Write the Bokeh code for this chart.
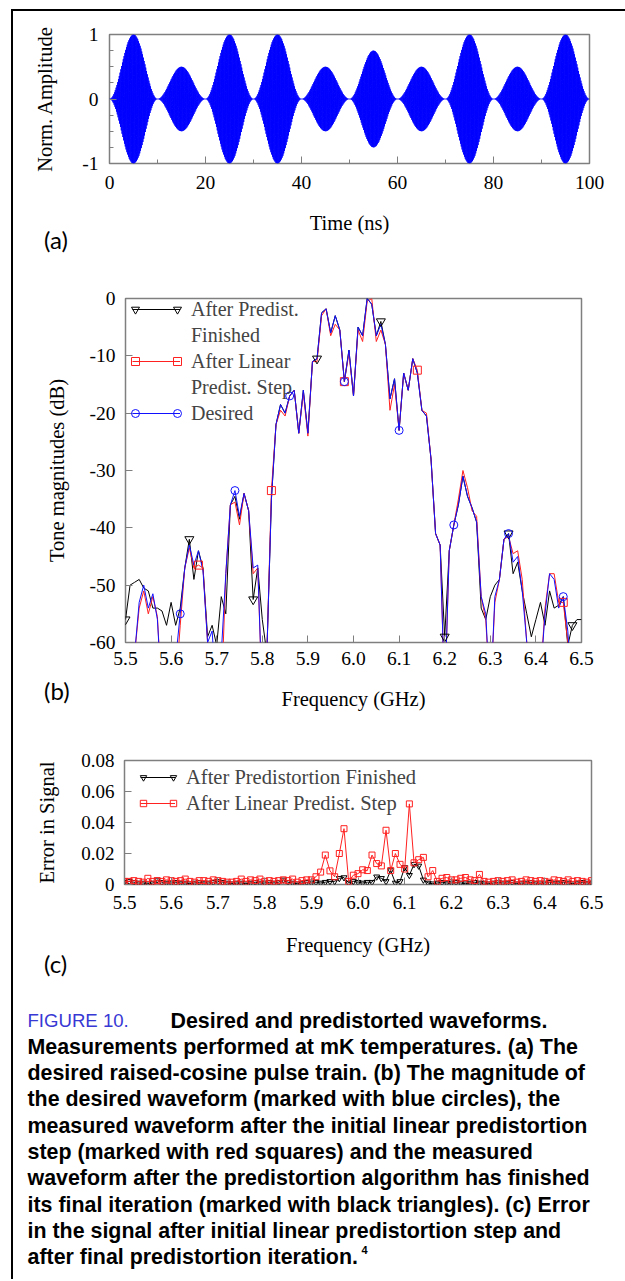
import numpy as np
from bokeh.plotting import figure
from bokeh.models import Legend, LegendItem, FixedTicker, PrintfTickFormatter, Range1d, Div
from bokeh.core.properties import value
from bokeh.embed import file_html
from bokeh.resources import INLINE

# ---------------- data ----------------
# (a) raised-cosine pulse train
pulse_amplitudes = [1.0, 0.5, 1.0, 1.0, 0.5, 0.75, 0.5, 1.0, 0.5, 1.0]
pulse_period_ns = 10.0
carrier_ghz = 6.0
time_ticks = [0, 20, 40, 60, 80, 100]
amp_ticks = [-1, 0, 1]

# (b) tone magnitudes (dB), tones every 10 MHz from 5.50 to 6.50 GHz
freq_start = 5.50
freq_step = 0.01
desired_db = [
    -70, -70, -62, -53, -50, -54, -51.5, -56, -70, -70,
    -70, -63, -55, -47, -43, -46.5, -44, -47.5, -60, -58,
    -70, -62, -48, -36, -33.5, -38, -34, -37, -47, -46.5,
    -70, -62, -35, -22, -18.5, -20, -17, -16, -23.5, -16,
    -23.5, -11, -10.5, -2.5, -1.8, -6, -3, -5.5, -14.5, -9,
    -17, -5, -6.5, 0, -1, -6.5, -4.5, -8, -17.5, -14,
    -23, -13, -16, -10.5, -13, -19.5, -20.5, -28, -41, -43,
    -70, -44, -39.5, -36, -31, -34.5, -36.5, -39, -52, -55,
    -70, -52, -49, -42, -41, -46, -45, -51, -60, -70,
    -70, -66, -55, -48, -49, -54, -52, -58, -70, -70,
    -70]
linear_step_db = [
    -70, -70, -62, -54, -51, -55, -52, -55.5, -70, -70,
    -70, -68, -57, -47, -43.5, -47, -46.5, -47, -60, -62,
    -70, -70, -48, -36, -35.5, -39.5, -34, -37, -48, -47,
    -70, -62, -33.5, -22, -19.5, -20.5, -17, -16, -23.5, -16.5,
    -24, -11, -11, -3, -1.8, -6.5, -4.5, -5.5, -14.5, -9.5,
    -17, -5.5, -7.5, -0.5, 0, -7.5, -5.5, -8, -19.5, -15,
    -23, -13, -16, -10.5, -12.5, -19.5, -20, -28, -41, -43,
    -70, -44, -39.5, -35, -30, -33, -37, -38, -52, -56,
    -70, -53, -49, -42, -41.5, -44.5, -44, -49, -60, -70,
    -70, -66, -54, -48, -48, -53, -53, -60, -70, -70,
    -70]
final_db = [
    -56, -50, -49.5, -49, -50.5, -51, -54, -54, -54.5, -57,
    -53, -57, -54, -47, -42, -49, -44, -47, -59, -57,
    -60.5, -52, -55, -36, -34.5, -38.5, -34, -37, -52.5, -47,
    -56, -62, -35, -22, -18.5, -20, -17, -16, -23.5, -16,
    -23.5, -11, -10.5, -2.5, -1.8, -6, -3, -5.5, -14.5, -9,
    -17, -5, -6.5, 0, -1, -6.5, -4, -8, -17.5, -14,
    -23, -13, -16, -10.5, -13, -19.5, -20.5, -28, -41, -43,
    -59, -44, -39.5, -36, -31, -34.5, -36.5, -39, -54, -56,
    -52, -50, -49, -42, -41, -48, -46, -51, -55, -59,
    -56, -53, -57, -51, -54, -53.5, -52, -60.5, -57, -56,
    -56]
freq_ticks = [5.5, 5.6, 5.7, 5.8, 5.9, 6.0, 6.1, 6.2, 6.3, 6.4, 6.5]
db_ticks = [-60, -50, -40, -30, -20, -10, 0]

# (c) error in signal
err_linear = [
    0.002, 0.002, 0.0025, 0.002, 0.0015, 0.004, 0.002, 0.0025, 0.002, 0.003,
    0.0025, 0.002, 0.0025, 0.0035, 0.002, 0.0015, 0.0025, 0.0025, 0.002, 0.003,
    0.0025, 0.002, 0.0015, 0.0015, 0.002, 0.0035, 0.002, 0.003, 0.0025, 0.0035,
    0.002, 0.0025, 0.002, 0.0025, 0.003, 0.0025, 0.0035, 0.0015, 0.0025, 0.003,
    0.003, 0.005, 0.008, 0.019, 0.0088, 0.005, 0.02, 0.036, 0.002, 0.006,
    0.007, 0.0095, 0.009, 0.019, 0.0135, 0.012, 0.035, 0.009, 0.02, 0.013,
    0.01, 0.052, 0.014, 0.016, 0.0175, 0.005, 0.009, 0.002, 0.004, 0.0045,
    0.003, 0.003, 0.004, 0.0045, 0.003, 0.0025, 0.0065, 0.002, 0.0015, 0.002,
    0.0025, 0.002, 0.0025, 0.003, 0.0015, 0.002, 0.003, 0.0025, 0.002, 0.0025,
    0.002, 0.0015, 0.003, 0.0025, 0.002, 0.003, 0.002, 0.0025, 0.002, 0.0015,
    0.0025]
err_final = [
    0.0015, 0.002, 0.0015, 0.001, 0.001, 0.0005, 0.001, 0.003, 0.0015, 0.001,
    0.001, 0.0015, 0.001, 0.001, 0.0005, 0.001, 0.0015, 0.001, 0.001, 0.0015,
    0.002, 0.0015, 0.001, 0.0005, 0.001, 0.001, 0.0005, 0.001, 0.0015, 0.001,
    0.001, 0.0015, 0.001, 0.0015, 0.003, 0.0015, 0.001, 0.0005, 0.001, 0.0015,
    0.001, 0.0015, 0.001, 0.0015, 0.002, 0.002, 0.004, 0.0045, 0.001, 0.002,
    0.0015, 0.001, 0.0015, 0.0015, 0.005, 0.004, 0.002, 0.009, 0.001, 0.002,
    0.011, 0.006, 0.013, 0.012, 0.003, 0.001, 0.0005, 0.001, 0.0015, 0.001,
    0.001, 0.0015, 0.001, 0.0005, 0.001, 0.0015, 0.001, 0.001, 0.0005, 0.001,
    0.0015, 0.001, 0.001, 0.0015, 0.0005, 0.001, 0.001, 0.0015, 0.001, 0.0005,
    0.001, 0.0015, 0.001, 0.001, 0.0015, 0.001, 0.0005, 0.001, 0.0015, 0.001,
    0.001]
err_ticks = [0, 0.02, 0.04, 0.06, 0.08]

caption_head = "FIGURE 10."
caption_lines = [
    "Desired and predistorted waveforms.",
    "Measurements performed at mK temperatures. (a) The",
    "desired raised-cosine pulse train. (b) The magnitude of",
    "the desired waveform (marked with blue circles), the",
    "measured waveform after the initial linear predistortion",
    "step (marked with red squares) and the measured",
    "waveform after the predistortion algorithm has finished",
    "its final iteration (marked with black triangles). (c) Error",
    "in the signal after initial linear predistortion step and",
    "after final predistortion iteration.",
]
caption_ref = "4"

# ---------------- styling helpers ----------------
SERIF = "Liberation Serif"
SANS = "Liberation Sans"
GRAY = "#7f7f7f"
W = 617
EDGE_FIRST = {"margin-left": "8px", "margin-top": "6px"}
EDGE = {"margin-left": "8px"}


def style(p, tick_fs, xtick_standoff, xlabel_standoff, ytick_standoff, ylabel_standoff):
    p.outline_line_color = GRAY
    p.outline_line_width = 1.5
    p.grid.visible = False
    p.background_fill_color = "white"
    p.border_fill_color = "white"
    for ax in (p.xaxis[0], p.yaxis[0]):
        ax.axis_line_color = None
        ax.major_tick_line_color = GRAY
        ax.minor_tick_line_color = GRAY
        ax.major_tick_in = 7
        ax.major_tick_out = 0
        ax.minor_tick_in = 0
        ax.minor_tick_out = 0
        ax.major_label_text_font = SERIF
        ax.major_label_text_font_size = tick_fs
        ax.major_label_text_color = "black"
        ax.axis_label_text_font = SERIF
        ax.axis_label_text_font_size = "20.5px"
        ax.axis_label_text_font_style = "normal"
        ax.axis_label_text_color = "black"
    p.xaxis[0].major_label_standoff = xtick_standoff
    p.yaxis[0].major_label_standoff = ytick_standoff
    p.xaxis[0].axis_label_standoff = xlabel_standoff
    p.yaxis[0].axis_label_standoff = ylabel_standoff


def make_legend(items, loc, glyph_width, standoff, font_size, text_alpha=1.0):
    leg = Legend(items=items, location=loc)
    leg.glyph_width = glyph_width
    leg.glyph_height = 24
    leg.label_height = 24
    leg.label_standoff = standoff
    leg.label_text_font = SERIF
    leg.label_text_font_size = font_size
    leg.label_text_alpha = text_alpha
    leg.background_fill_alpha = 0
    leg.border_line_color = None
    leg.padding = 0
    leg.margin = 0
    leg.spacing = 2
    return leg


def panel_tag(text, left, top):
    return Div(text=f'<span style="font-family: Lato; font-size: 24px; color: #000;">{text}</span>',
               width=40, height=32,
               styles={"position": "absolute", "left": f"{left}px", "top": f"{top}px"})


# ---------------- (a) ----------------
t = np.linspace(0, 100, 20001)
k = np.minimum((t // pulse_period_ns).astype(int), len(pulse_amplitudes) - 1)
env = np.array(pulse_amplitudes)[k] * np.sin(np.pi * (t - k * pulse_period_ns) / pulse_period_ns) ** 2
sig = env * np.sin(2 * np.pi * carrier_ghz * t)

pa = figure(width=W, height=259, x_range=Range1d(0, 100), y_range=Range1d(-1, 1),
            output_backend="svg", toolbar_location=None, styles=EDGE_FIRST,
            min_border_left=101, min_border_right=36, min_border_top=28, min_border_bottom=102)
pa.line(t, sig, line_color="#0000ff", line_width=1)
style(pa, "19.5px", 12, 20, 11, 23)
pa.xaxis[0].ticker = FixedTicker(ticks=time_ticks, minor_ticks=list(range(0, 101, 10)))
pa.yaxis[0].ticker = FixedTicker(ticks=amp_ticks, minor_ticks=[-1 + 0.25 * i for i in range(9)])
pa.xaxis[0].minor_tick_in = 4
pa.yaxis[0].minor_tick_in = 4
pa.xaxis[0].formatter = PrintfTickFormatter(format="%d")
pa.yaxis[0].formatter = PrintfTickFormatter(format="%d")
pa.xaxis[0].axis_label = "Time (ns)"
pa.yaxis[0].axis_label = "Norm. Amplitude"

# ---------------- (b) ----------------
freq = [round(freq_start + freq_step * i, 2) for i in range(len(desired_db))]
pb = figure(width=W, height=460, x_range=Range1d(5.5, 6.5), y_range=Range1d(-60, 0),
            output_backend="svg", toolbar_location=None, styles=EDGE,
            min_border_left=117, min_border_right=44, min_border_top=33, min_border_bottom=83)
style(pb, "19.5px", 9, 20, 10, 19)
lk = pb.line(freq, final_db, line_color="black", line_width=1)
lr = pb.line(freq, linear_step_db, line_color="#ff2020", line_width=1)
lb = pb.line(freq, desired_db, line_color="#1010ff", line_width=1)
sk = pb.scatter(freq[::14], final_db[::14], marker="inverted_triangle", size=9,
                line_color="black", fill_color=None, line_width=1)
sr = pb.scatter(freq[::16], linear_step_db[::16], marker="square", size=8,
                line_color="#ff2020", fill_color=None, line_width=1)
sb = pb.scatter(freq[::12], desired_db[::12], marker="circle", size=8,
                line_color="#1010ff", fill_color=None, line_width=1)
pb.xaxis[0].ticker = FixedTicker(ticks=freq_ticks)
pb.yaxis[0].ticker = FixedTicker(ticks=db_ticks)
pb.xaxis[0].formatter = PrintfTickFormatter(format="%.1f")
pb.yaxis[0].formatter = PrintfTickFormatter(format="%d")
pb.xaxis[0].axis_label = "Frequency (GHz)"
pb.yaxis[0].axis_label = "Tone magnitudes (dB)"
pb.add_layout(make_legend([
    LegendItem(label="After Predist.", renderers=[lk]),
    LegendItem(label="Finished", renderers=[]),
    LegendItem(label="After Linear", renderers=[lr]),
    LegendItem(label="Predist. Step", renderers=[]),
    LegendItem(label="Desired", renderers=[lb]),
], (7, 217), 48, 11, "20px"))
# end markers of the legend samples (left and right ends of each sample line)
for vx in (0, 42):
    pb.add_layout(make_legend([
        LegendItem(label=" ", renderers=[sk]),
        LegendItem(label=" ", renderers=[]),
        LegendItem(label=" ", renderers=[sr]),
        LegendItem(label=" ", renderers=[]),
        LegendItem(label=" ", renderers=[sb]),
    ], (vx, 217), 20, 0, "4px", 0.0))

# ---------------- (c) ----------------
pc = figure(width=W, height=265, x_range=Range1d(5.5, 6.5), y_range=Range1d(0, 0.08),
            output_backend="svg", toolbar_location=None, styles=EDGE,
            min_border_left=116, min_border_right=34, min_border_top=35, min_border_bottom=106)
style(pc, "19px", 11, 22, 10, 20)
ck = pc.line(freq, err_final, line_color="black", line_width=1)
ckm = pc.scatter(freq, err_final, marker="inverted_triangle", size=6,
                 line_color="black", fill_color=None, line_width=1)
cr = pc.line(freq, err_linear, line_color="#ff2020", line_width=1)
crm = pc.scatter(freq, err_linear, marker="square", size=6,
                 line_color="#ff2020", fill_color=None, line_width=1)
pc.xaxis[0].ticker = FixedTicker(ticks=freq_ticks)
pc.yaxis[0].ticker = FixedTicker(ticks=err_ticks)
pc.xaxis[0].formatter = PrintfTickFormatter(format="%.1f")
pc.yaxis[0].formatter = PrintfTickFormatter(format="%.2f")
pc.yaxis[0].major_label_overrides = {0: "0"}
pc.xaxis[0].axis_label = "Frequency (GHz)"
pc.yaxis[0].axis_label = "Error in Signal"
pc.add_layout(make_legend([
    LegendItem(label="After Predistortion Finished", renderers=[ck]),
    LegendItem(label="After Linear Predist. Step", renderers=[cr]),
], (16, 69), 35, 11, "20.5px"))
for vx in (11, 41):
    pc.add_layout(make_legend([
        LegendItem(label=" ", renderers=[ckm]),
        LegendItem(label=" ", renderers=[crm]),
    ], (vx, 69), 16, 0, "4px", 0.0))

# ---------------- caption ----------------
CAP_H = 285
pcap = figure(width=W, height=CAP_H, x_range=Range1d(0, W), y_range=Range1d(CAP_H, 0),
              output_backend="svg", toolbar_location=None, styles=EDGE,
              min_border_left=0, min_border_right=0, min_border_top=0, min_border_bottom=0)
pcap.xaxis.visible = False
pcap.yaxis.visible = False
pcap.grid.visible = False
pcap.outline_line_color = None
x0, y0, dy = 19, 30, 26.3
pcap.text(x=[x0], y=[y0], text=[caption_head], text_font=value(SANS), text_font_size="18.6px",
          text_color="#3838d4", text_baseline="middle")
xs = [162] + [x0] * (len(caption_lines) - 1)
ys = [y0 + dy * i for i in range(len(caption_lines))]
pcap.text(x=xs, y=ys, text=caption_lines, text_font=value(SANS), text_font_size="21.4px",
          text_font_style="bold", text_color="black", text_baseline="middle")
pcap.text(x=[353], y=[y0 + dy * 9 - 7], text=[caption_ref], text_font=value(SANS), text_font_size="11px",
          text_font_style="bold", text_color="black", text_baseline="middle")

tags = [panel_tag("(a)", 39, 218), panel_tag("(b)", 39, 669), panel_tag("(c)", 39, 942)]

# page frame line (left and top edges)
frame_edge = Div(text="", width=617, height=1270,
                 styles={"position": "absolute", "left": "8px", "top": "6px",
                         "box-shadow": "-2px -2px 0 0 #000", "background": "transparent",
                         "pointer-events": "none"})

open("out.html", "w").write(file_html([pa, pb, pc, pcap] + tags + [frame_edge], INLINE))
